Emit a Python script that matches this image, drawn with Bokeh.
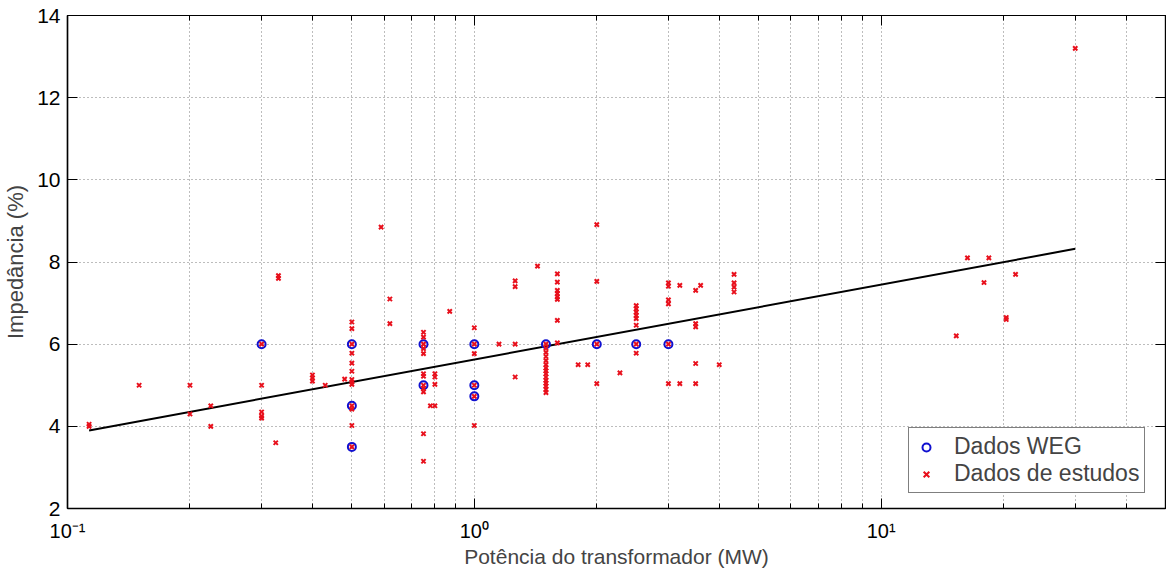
from bokeh.plotting import figure
from bokeh.models import (LinearAxis, LogAxis, FixedTicker, Legend,
                          LegendItem, Range1d)
from bokeh.embed import file_html
from bokeh.resources import INLINE

# ---- data ----
weg_mw = [0.3, 0.5, 0.5, 0.5, 0.75, 0.75, 1.0, 1.0, 1.0, 1.5, 2.0, 2.5, 3.0]
weg_z = [6.0, 6.0, 4.5, 3.5, 6.0, 5.0, 6.0, 5.0, 4.73, 6.0, 6.0, 6.0, 6.0]

est_mw = [0.113, 0.113,
          0.15,
          0.2, 0.2,
          0.225, 0.225,
          0.3, 0.3, 0.3, 0.3, 0.3,
          0.325,
          0.33, 0.33,
          0.4, 0.4, 0.4,
          0.43,
          0.48,
          0.5, 0.5, 0.5, 0.5, 0.5, 0.5, 0.5, 0.5, 0.5, 0.5, 0.5, 0.5, 0.5,
          0.59,
          0.62, 0.62,
          0.75, 0.75, 0.75, 0.75, 0.75, 0.75, 0.75, 0.75, 0.75, 0.75, 0.75, 0.75,
          0.8, 0.8, 0.8, 0.8,
          0.78,
          0.87,
          1.0, 1.0, 1.0, 1.0, 1.0, 1.0,
          1.15,
          1.26, 1.26, 1.26, 1.26,
          1.43,
          1.5, 1.5, 1.5, 1.5, 1.5, 1.5, 1.5, 1.5, 1.5, 1.5, 1.5, 1.5, 1.5, 1.5, 1.5,
          1.6, 1.6, 1.6, 1.6, 1.6, 1.6, 1.6, 1.6,
          1.8, 1.9,
          2.0, 2.0, 2.0, 2.0,
          2.28,
          2.5, 2.5, 2.5, 2.5, 2.5, 2.5, 2.5, 2.5,
          3.0, 3.0, 3.0, 3.0, 3.0, 3.0,
          3.2, 3.2,
          3.5, 3.5, 3.5, 3.5, 3.5,
          3.6,
          4.0,
          4.35, 4.35, 4.35, 4.35,
          15.3, 16.3, 17.9, 18.4, 20.3, 20.3, 21.4, 30.0]
est_z = [4.0, 4.05,
         5.0,
         5.0, 4.3,
         4.5, 4.0,
         6.0, 5.0, 4.35, 4.25, 4.2,
         3.6,
         7.6, 7.67,
         5.25, 5.18, 5.1,
         5.0,
         5.15,
         6.54, 6.38, 6.0, 5.78, 5.54, 5.34, 5.14, 5.08, 5.02, 4.5, 4.42, 4.02, 3.5,
         8.85,
         7.1, 6.5,
         6.29, 6.17, 6.0, 5.89, 5.77, 5.28, 5.22, 5.0, 4.92, 4.84, 3.82, 3.15,
         5.28, 5.2, 5.02, 4.5,
         4.5,
         6.8,
         6.4, 6.0, 5.77, 5.0, 4.73, 4.02,
         6.0,
         7.54, 7.4, 6.0, 5.2,
         7.9,
         6.0, 5.9, 5.8, 5.7, 5.6, 5.5, 5.42, 5.35, 5.28, 5.2, 5.12, 5.05, 4.98, 4.9, 4.82,
         7.71, 7.51, 7.31, 7.23, 7.15, 7.09, 6.58, 6.03,
         5.5, 5.5,
         8.91, 7.53, 6.0, 5.04,
         5.3,
         6.94, 6.86, 6.78, 6.7, 6.62, 6.46, 6.0, 5.78,
         7.49, 7.41, 7.08, 6.98, 6.0, 5.04,
         7.43, 5.04,
         7.31, 6.5, 6.42, 5.53, 5.04,
         7.43,
         5.5,
         7.7, 7.49, 7.39, 7.27,
         6.2, 8.1, 7.5, 8.1, 6.6, 6.65, 7.7, 13.2]

fit_mw = [0.113, 30.0]
fit_z = [3.9, 8.32]

x_major = [0.1, 1, 10]
x_major_labels = ["10\u207b\u00b9", "10\u2070", "10\u00b9"]
x_minor = [0.2, 0.3, 0.4, 0.5, 0.6, 0.7, 0.8, 0.9,
           2, 3, 4, 5, 6, 7, 8, 9, 20, 30, 40, 50]
y_ticks = [2, 4, 6, 8, 10, 12, 14]

FONT = "Liberation Sans"

p = figure(width=1166, height=571, x_axis_type="log",
           x_range=Range1d(0.1, 50), y_range=Range1d(2, 14),
           output_backend="svg", toolbar_location=None,
           min_border_left=66, min_border_right=1,
           min_border_top=15, min_border_bottom=63)
p.background_fill_color = "white"
p.border_fill_color = "white"
p.outline_line_color = "black"
p.outline_line_width = 1.2

xt = FixedTicker(ticks=x_major, minor_ticks=x_minor)
yt = FixedTicker(ticks=y_ticks)

# bottom axis
xa = p.xaxis[0]
xa.ticker = xt
xa.major_label_overrides = dict(zip(x_major, x_major_labels))
xa.major_label_text_font = FONT
xa.major_label_text_font_size = "20px"
xa.major_label_text_color = "black"
xa.major_label_standoff = 11
xa.major_tick_in = 10
xa.major_tick_out = 0
xa.minor_tick_in = 5
xa.minor_tick_out = 0
xa.axis_line_width = 1.5
xa.axis_label = "Potência do transformador (MW)"
xa.axis_label_text_font = FONT
xa.axis_label_text_font_style = "normal"
xa.axis_label_text_font_size = "21px"
xa.axis_label_standoff = 0

# left axis
ya = p.yaxis[0]
ya.ticker = yt
ya.major_label_text_font = FONT
ya.major_label_text_font_size = "21px"
ya.major_label_text_color = "black"
ya.major_label_standoff = 7
ya.major_tick_in = 10
ya.major_tick_out = 0
ya.minor_tick_line_color = None
ya.axis_line_width = 1.5
ya.axis_label = "Impedância (%)"
ya.axis_label_text_font = FONT
ya.axis_label_text_font_style = "normal"
ya.axis_label_text_font_size = "22px"
ya.axis_label_standoff = 6

# mirrored axes (ticks only)
top = LogAxis(ticker=xt, major_label_text_font_size="1px",
              major_label_text_color=None,
              major_label_standoff=0, major_tick_in=10, major_tick_out=0,
              minor_tick_in=5, minor_tick_out=0, axis_line_width=1.2)
right = LinearAxis(ticker=yt, major_label_text_font_size="1px",
                   major_label_text_color=None,
                   major_label_standoff=0, major_tick_in=10, major_tick_out=0,
                   minor_tick_line_color=None, axis_line_width=1.2)
p.add_layout(top, "above")
p.add_layout(right, "right")

# grids
p.xgrid.ticker = xt
p.ygrid.ticker = yt
for g in (p.xgrid[0], p.ygrid[0]):
    g.grid_line_color = "#7a7a7a"
    g.grid_line_dash = "1 3"
    g.grid_line_width = 1
p.xgrid.minor_grid_line_color = "#7a7a7a"
p.xgrid.minor_grid_line_dash = "1 3"
p.xgrid.minor_grid_line_width = 1

# data
r_fit = p.line(fit_mw, fit_z, line_color="black", line_width=2)
r_weg = p.scatter(weg_mw, weg_z, marker="circle", size=8, fill_color=None,
                  line_color="#1010d0", line_width=2)
r_est = p.scatter(est_mw, est_z, marker="x", size=6, line_color="#e8101c",
                  line_width=2)

legend = Legend(items=[LegendItem(label="Dados WEG", renderers=[r_weg]),
                       LegendItem(label="Dados de estudos", renderers=[r_est])],
                location=(841, 15))
legend.border_line_color = "black"
legend.border_line_width = 1.5
legend.background_fill_color = "white"
legend.background_fill_alpha = 1
legend.label_text_font = FONT
legend.label_text_font_size = "23px"
legend.glyph_width = 24
legend.glyph_height = 20
legend.label_standoff = 16
legend.label_height = 20
legend.spacing = 0
legend.padding = 5
legend.margin = 0
p.add_layout(legend, "center")

open("out.html", "w").write(file_html(p, INLINE))
